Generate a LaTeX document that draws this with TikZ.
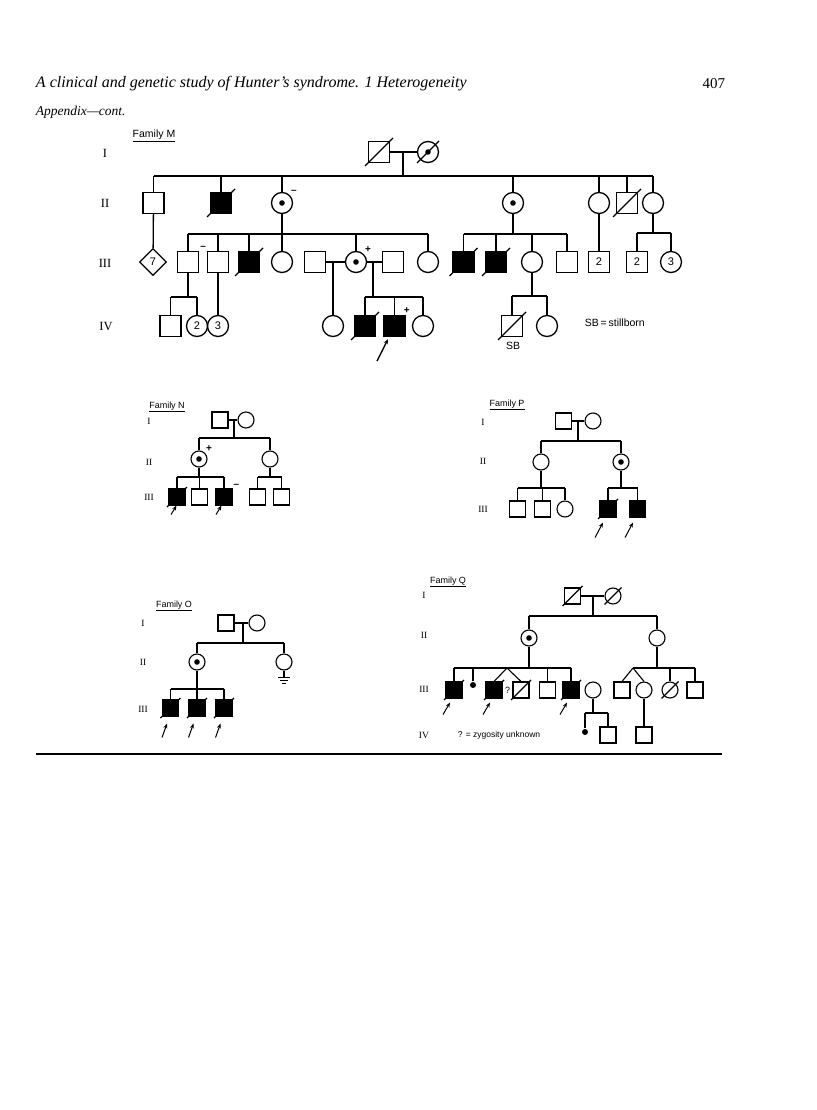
\documentclass[tikz,border=0pt]{standalone}
\usepackage{fontspec}
\setmainfont{Liberation Serif}
\newfontfamily\lbl{Liberation Sans}
\usetikzlibrary{arrows.meta, shapes.geometric}

\begin{document}
\begin{tikzpicture}[x=1pt, y=-1pt,
  line width=1.3pt,
  every node/.style={text=black},
  sym/.style={draw, line width=1.3pt, inner sep=0pt, minimum size=21pt, font=\lbl\fontsize{11}{11}\selectfont},
  male/.style={sym, rectangle},
  fem/.style={sym, circle},
  aff/.style={fill=black},
  carr/.style={path picture={\fill (path picture bounding box.center) circle (2.8pt);}},
  sm/.style={minimum size=16pt, line width=1.1pt},
  unk/.style={sym, diamond, minimum width=27pt, minimum height=27pt},
  lost/.style={circle, fill=black, inner sep=0pt, minimum size=6pt},
  gen/.style={font=\fontsize{12.5}{13}\selectfont},
  gens/.style={font=\fontsize{9.5}{10}\selectfont},
  fam/.style={font=\lbl\fontsize{10.5}{11}\selectfont},
  fams/.style={font=\lbl\fontsize{9}{10}\selectfont},
  sgn/.style={font=\lbl\bfseries\fontsize{10}{10}\selectfont, inner sep=0.5pt},
  pb/.style={line width=1pt, -{Stealth[length=5pt, width=4pt]}},
  thin/.style={line width=1.1pt},
]

% Page
\fill[white] (0,0) rectangle (816,1110);
\useasboundingbox (0,0) rectangle (816,1110);

% Running head
\node[anchor=west, font=\itshape\fontsize{16}{18}\selectfont] (title) at (32,84) {A clinical and genetic study of Hunter's syndrome. 1 Heterogeneity};
\node[anchor=east, font=\fontsize{15}{17}\selectfont] (page) at (729,84) {407};
\node[anchor=west, font=\itshape\fontsize{13.5}{15}\selectfont] (appx) at (32,112) {Appendix---cont.};

% ---------------- Family M
\node[fam] (fM) at (154,136) {\underline{Family M}};
\node[gen] (gMI) at (105,153) {I};
\node[gen] (gMII) at (105,203) {II};
\node[gen] (gMIII) at (105,263) {III};
\node[gen] (gMIV) at (106,327) {IV};

% generation I
\node[male] (mI1) at (379,152) {};
\node[fem, carr] (mI2) at (428,152) {};
\draw (mI1) -- (mI2);
\coordinate (mIm) at (403,152);
\coordinate (mIs) at (403,176);
\draw (mIm) -- (mIs);

% generation II
\node[male] (mII1) at (153.5,203) {};
\node[male, aff] (mII2) at (221,203) {};
\node[fem, carr, label={[sgn]north east:\textendash}] (mII3) at (282,203) {};
\node[fem, carr] (mII4) at (513,203) {};
\node[fem] (mII5) at (599,203) {};
\node[male] (mII6) at (627,203) {};
\node[fem] (mII7) at (653,203) {};
\draw (mII1 |- mIs) -- (mII7 |- mIs);
\foreach \c in {mII1,mII2,mII3,mII4,mII5,mII6,mII7} \draw (\c) -- (\c |- mIs);

% generation III
\node[unk] (mIII1) at (153,262) {7};
\draw (mII1) -- (mIII1);

\coordinate (mIIs3) at (282,234);
\node[male, label={[sgn]north east:\textendash}] (mIII2) at (188,262) {};
\node[male] (mIII3) at (218,262) {};
\node[male, aff] (mIII4) at (249,262) {};
\node[fem] (mIII5) at (282,262) {};
\node[male] (mIII6) at (315,262) {};
\node[fem, carr, label={[sgn]north east:+}] (mIII7) at (356,262) {};
\node[male] (mIII8) at (393,262) {};
\node[fem] (mIII9) at (428,262) {};
\draw (mII3) -- (mIIs3);
\draw (mIII2 |- mIIs3) -- (mIII9 |- mIIs3);
\foreach \c in {mIII2,mIII3,mIII4,mIII5,mIII7,mIII9} \draw (\c) -- (\c |- mIIs3);
\draw (mIII6) -- (mIII7) (mIII7) -- (mIII8);

\coordinate (mIIs4) at (513,234);
\node[male, aff] (mIII10) at (463.5,262) {};
\node[male, aff] (mIII11) at (496,262) {};
\node[fem] (mIII12) at (532,262) {};
\node[male] (mIII13) at (567,262) {};
\draw (mII4) -- (mIIs4);
\draw (mIII10 |- mIIs4) -- (mIII13 |- mIIs4);
\foreach \c in {mIII10,mIII11,mIII12,mIII13} \draw (\c) -- (\c |- mIIs4);

\node[male] (mIII14) at (599,262) {2};
\draw (mII5) -- (mIII14);

\coordinate (mIIs7) at (653,233);
\node[male] (mIII15) at (637,262) {2};
\node[fem] (mIII16) at (671,262) {3};
\draw (mII7) -- (mIIs7);
\draw (mIII15 |- mIIs7) -- (mIII16 |- mIIs7);
\foreach \c in {mIII15,mIII16} \draw (\c) -- (\c |- mIIs7);

% generation IV
\coordinate (mIIIs2) at (188,297);
\node[male] (mIV1) at (170.5,326) {};
\node[fem] (mIV2) at (197,326) {2};
\node[fem] (mIV3) at (218,326) {3};
\draw (mIII2) -- (mIIIs2);
\draw (mIV1 |- mIIIs2) -- (mIV2 |- mIIIs2);
\foreach \c in {mIV1,mIV2} \draw (\c) -- (\c |- mIIIs2);
\draw (mIII3) -- (mIV3);

\coordinate (mIIIm6) at (333,262);
\node[fem] (mIV4) at (333,326) {};
\draw (mIIIm6) -- (mIV4);

\coordinate (mIIIm8) at (373,262);
\coordinate (mIIIs8) at (373,297);
\node[male, aff] (mIV5) at (365,326) {};
\node[male, aff, label={[sgn, xshift=-3pt]north east:+}] (mIV6) at (394.5,326) {};
\node[fem] (mIV7) at (423,326) {};
\draw (mIIIm8) -- (mIIIs8);
\draw (mIV5 |- mIIIs8) -- (mIV7 |- mIIIs8);
\foreach \c in {mIV5,mIV6,mIV7} \draw (\c) -- (\c |- mIIIs8);
\draw[pb, line width=1.3pt] ([shift={(-17.5pt,-24pt)}]mIV6.south) -- ([shift={(-6.5pt,-2pt)}]mIV6.south);

\coordinate (mIIIs12) at (532,296);
\node[male] (mIV8) at (512,326) {};
\node[fem] (mIV9) at (547,326) {};
\draw (mIII12) -- (mIIIs12);
\draw (mIV8 |- mIIIs12) -- (mIV9 |- mIIIs12);
\foreach \c in {mIV8,mIV9} \draw (\c) -- (\c |- mIIIs12);
\node[fam] (sb) at (513,346) {SB};
\node[fam, anchor=west] (sbkey) at (581,323) {SB\,=\,stillborn};

% deceased
\foreach \c in {mI1,mII2,mII6,mIII4,mIII10,mIII11,mIV5,mIV8}
  \draw ([shift={(-14pt,-14pt)}]\c.center) -- ([shift={(14pt,14pt)}]\c.center);
\draw ([shift={(-11pt,-11pt)}]mI2.center) -- ([shift={(11pt,11pt)}]mI2.center);

% ---------------- Family N
\begin{scope}[thin]
\node[fams] (fN) at (167,407) {\underline{Family N}};
\node[gens] (gNI) at (149,421) {I};
\node[gens] (gNII) at (149,462) {II};
\node[gens] (gNIII) at (149,497) {III};

\node[male, sm] (nI1) at (220,420) {};
\node[fem, sm] (nI2) at (246,420) {};
\draw (nI1) -- (nI2);
\coordinate (nIm) at (234,420);
\coordinate (nIs) at (234,438);
\draw (nIm) -- (nIs);

\node[fem, sm, carr, label={[sgn]north east:+}] (nII1) at (199,459) {};
\node[fem, sm] (nII2) at (270,459) {};
\draw (nII1 |- nIs) -- (nII2 |- nIs);
\foreach \c in {nII1,nII2} \draw (\c) -- (\c |- nIs);

\coordinate (nIIs1) at (199,477);
\coordinate (nIIs2) at (270,477);
\node[male, sm, aff] (nIII1) at (177,497) {};
\node[male, sm] (nIII2) at (199.5,497) {};
\node[male, sm, aff, label={[sgn]north east:\textendash}] (nIII3) at (224,497) {};
\node[male, sm] (nIII4) at (257.5,497) {};
\node[male, sm] (nIII5) at (281.5,497) {};
\draw (nII1) -- (nIIs1) (nII2) -- (nIIs2);
\draw (nIII1 |- nIIs1) -- (nIII3 |- nIIs1);
\draw (nIII4 |- nIIs2) -- (nIII5 |- nIIs2);
\foreach \c in {nIII1,nIII2,nIII3,nIII4,nIII5} \draw (\c) -- (\c |- nIIs1);
\draw[pb] ([shift={(-6pt,-9pt)}]nIII1.south) -- ([shift={(-0.5pt,0pt)}]nIII1.south);
\draw[pb] ([shift={(-8pt,-9pt)}]nIII3.south) -- ([shift={(-2.5pt,0pt)}]nIII3.south);

% ---------------- Family P
\node[fams] (fP) at (507,405) {\underline{Family P}};
\node[gens] (gPI) at (483,422) {I};
\node[gens] (gPII) at (483,461) {II};
\node[gens] (gPIII) at (483,509) {III};

\node[male, sm] (pI1) at (563.5,421) {};
\node[fem, sm] (pI2) at (593,421) {};
\draw (pI1) -- (pI2);
\coordinate (pIm) at (578,421);
\coordinate (pIs) at (578,441);
\draw (pIm) -- (pIs);

\node[fem, sm] (pII1) at (541,462) {};
\node[fem, sm, carr] (pII2) at (621,462) {};
\draw (pII1 |- pIs) -- (pII2 |- pIs);
\foreach \c in {pII1,pII2} \draw (\c) -- (\c |- pIs);

\coordinate (pIIs1) at (541,488);
\coordinate (pIIs2) at (621,488);
\node[male, sm] (pIII1) at (517.5,509) {};
\node[male, sm] (pIII2) at (542.5,509) {};
\node[fem, sm] (pIII3) at (565,509) {};
\node[male, sm, aff] (pIII4) at (608,509) {};
\node[male, sm, aff] (pIII5) at (637.5,509) {};
\draw (pII1) -- (pIIs1) (pII2) -- (pIIs2);
\draw (pIII1 |- pIIs1) -- (pIII3 |- pIIs1);
\draw (pIII4 |- pIIs2) -- (pIII5 |- pIIs2);
\foreach \c in {pIII1,pIII2,pIII3,pIII4,pIII5} \draw (\c) -- (\c |- pIIs1);
\draw[pb] ([shift={(-13pt,-20pt)}]pIII4.south) -- ([shift={(-5pt,-5pt)}]pIII4.south);
\draw[pb] ([shift={(-12.5pt,-20pt)}]pIII5.south) -- ([shift={(-4.5pt,-5pt)}]pIII5.south);

% ---------------- Family O
\node[fams] (fO) at (174,606) {\underline{Family O}};
\node[gens] (gOI) at (143,623) {I};
\node[gens] (gOII) at (143,662) {II};
\node[gens] (gOIII) at (143,709) {III};

\node[male, sm] (oI1) at (226,623) {};
\node[fem, sm] (oI2) at (257,623) {};
\draw (oI1) -- (oI2);
\coordinate (oIm) at (243,623);
\coordinate (oIs) at (243,643);
\draw (oIm) -- (oIs);

\node[fem, sm, carr] (oII1) at (197,662) {};
\node[fem, sm] (oII2) at (284,662) {};
\draw (oII1 |- oIs) -- (oII2 |- oIs);
\foreach \c in {oII1,oII2} \draw (\c) -- (\c |- oIs);

% no offspring
\coordinate (oGnd) at (284,677);
\draw (oII2) -- (oGnd);
\draw[line width=0.9pt] ([xshift=-6pt]oGnd) -- ([xshift=6pt]oGnd)
  ([shift={(-4pt,-3pt)}]oGnd) -- ([shift={(4pt,-3pt)}]oGnd)
  ([shift={(-2pt,-6pt)}]oGnd) -- ([shift={(2pt,-6pt)}]oGnd);

\coordinate (oIIs1) at (197,689);
\node[male, sm, aff] (oIII1) at (170.5,708) {};
\node[male, sm, aff] (oIII2) at (197,708) {};
\node[male, sm, aff] (oIII3) at (224,708) {};
\draw (oII1) -- (oIIs1);
\draw (oIII1 |- oIIs1) -- (oIII3 |- oIIs1);
\foreach \c in {oIII1,oIII2,oIII3} {
  \draw (\c) -- (\c |- oIIs1);
  \draw[pb] ([shift={(-8.5pt,-21pt)}]\c.south) -- ([shift={(-3.5pt,-7pt)}]\c.south);
}

% ---------------- Family Q
\node[fams] (fQ) at (448,582) {\underline{Family Q}};
\node[gens] (gQI) at (424,595) {I};
\node[gens] (gQII) at (424,635) {II};
\node[gens] (gQIII) at (424,689) {III};
\node[gens] (gQIV) at (424,735) {IV};

\node[male, sm] (qI1) at (572.5,596) {};
\node[fem, sm] (qI2) at (613,596) {};
\draw (qI1) -- (qI2);
\coordinate (qIm) at (593,596);
\coordinate (qIs) at (593,616);
\draw (qIm) -- (qIs);

\node[fem, sm, carr] (qII1) at (529,638) {};
\node[fem, sm] (qII2) at (657,638) {};
\draw (qII1 |- qIs) -- (qII2 |- qIs);
\foreach \c in {qII1,qII2} \draw (\c) -- (\c |- qIs);

\coordinate (qIIs1) at (529,668);
\coordinate (qTw1) at (507,668);
\node[male, sm, aff] (qIII1) at (454,690) {};
\node[lost] (qIII2) at (473,685) {};
\node[male, sm, aff] (qIII3) at (494,690) {};
\node[male, sm] (qIII4) at (521,690) {};
\node[fams] (qQ) at (507.5,690) {?};
\node[male, sm] (qIII5) at (547.5,690) {};
\node[male, sm, aff] (qIII6) at (571,690) {};
\node[fem, sm] (qIII7) at (593,690) {};
\draw (qII1) -- (qIIs1);
\draw (qIII1 |- qIIs1) -- (qIII6 |- qIIs1);
\foreach \c in {qIII1,qIII2,qIII5,qIII6} \draw (\c) -- (\c |- qIIs1);
\draw (qTw1) -- (qIII3.north) (qTw1) -- (qIII4.north);

\coordinate (qIIs2) at (657,668);
\coordinate (qTw2) at (633,668);
\node[male, sm] (qIII8) at (622,690) {};
\node[fem, sm] (qIII9) at (644,690) {};
\node[fem, sm] (qIII10) at (670,690) {};
\node[male, sm] (qIII11) at (695,690) {};
\draw (qII2) -- (qIIs2);
\draw (qTw2) -- (qIII11 |- qIIs2);
\foreach \c in {qIII10,qIII11} \draw (\c) -- (\c |- qIIs2);
\draw (qTw2) -- (qIII8.north) (qTw2) -- (qIII9.north);

\foreach \c in {qIII1,qIII3,qIII6}
  \draw[pb] ([shift={(-11pt,-16pt)}]\c.south) -- ([shift={(-4pt,-4pt)}]\c.south);

\coordinate (qIIIs7) at (593,713);
\node[lost] (qIV1) at (585,732) {};
\node[male, sm] (qIV2) at (608,735) {};
\draw (qIII7) -- (qIIIs7);
\draw (qIV1 |- qIIIs7) -- (qIV2 |- qIIIs7);
\foreach \c in {qIV1,qIV2} \draw (\c) -- (\c |- qIIIs7);

\node[male, sm] (qIV3) at (644,735) {};
\draw (qIII9) -- (qIV3);

\node[fams, anchor=west, font=\lbl\fontsize{8.5}{9}\selectfont] (qkey) at (454,735) {? = zygosity unknown};

% deceased
\foreach \c in {nIII1,pIII4,oIII1,oIII2,oIII3,qI1,qIII1,qIII3,qIII4,qIII6}
  \draw ([shift={(-10pt,-10pt)}]\c.center) -- ([shift={(10pt,10pt)}]\c.center);
\foreach \c in {qI2,qIII10}
  \draw ([shift={(-8.5pt,-8.5pt)}]\c.center) -- ([shift={(8.5pt,8.5pt)}]\c.center);
\end{scope}

% rule under the appendix
\coordinate (rL) at (36,754);
\coordinate (rR) at (722,754);
\draw[line width=1.8pt] (rL) -- (rR);

\end{tikzpicture}
\end{document}
